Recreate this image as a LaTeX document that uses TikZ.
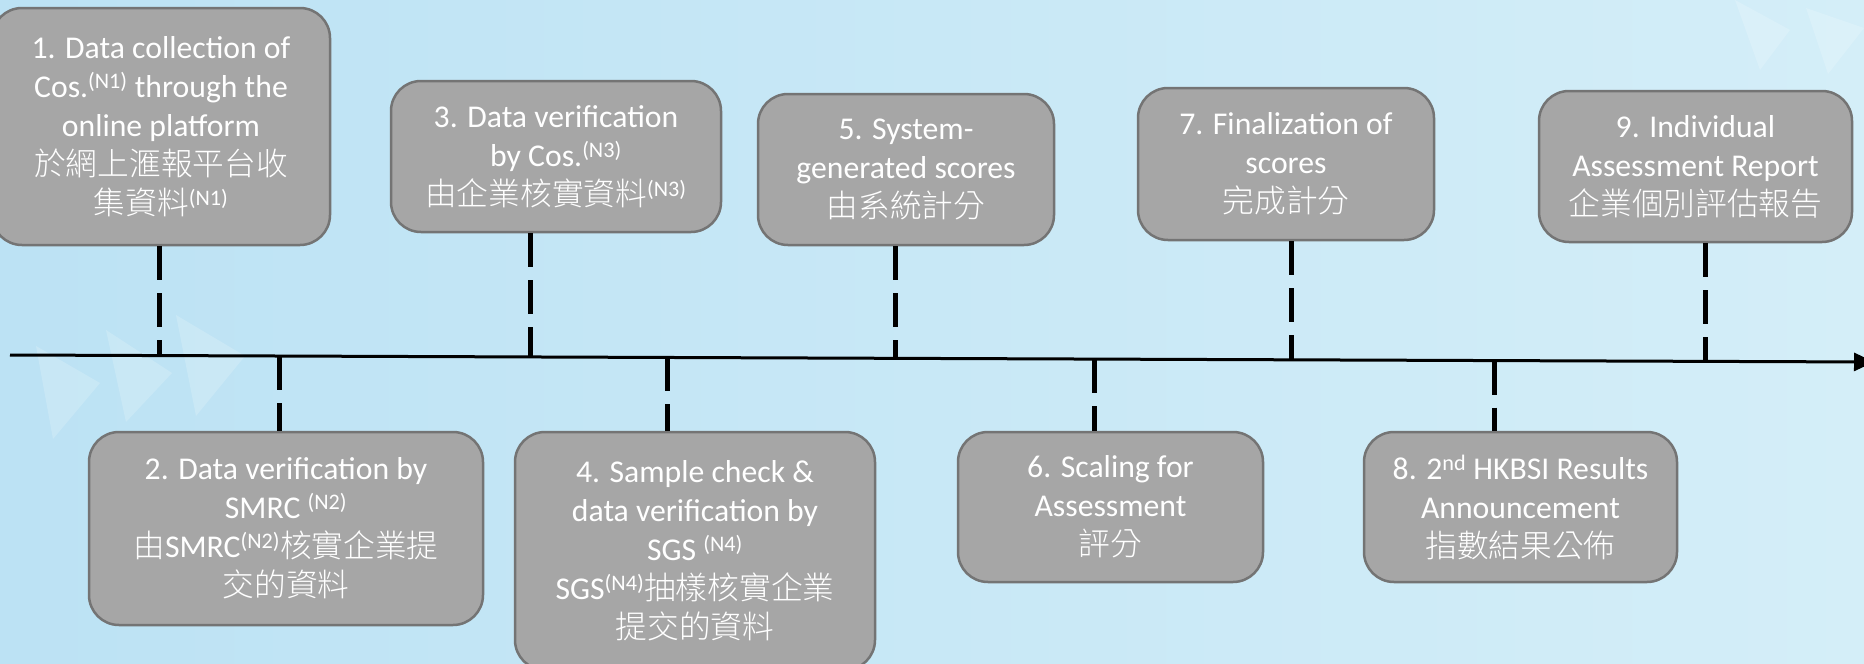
\documentclass[tikz,border=0pt]{standalone}
\usepackage{fontspec}
\setmainfont{Carlito}
\IfFontExistsTF{Noto Sans CJK TC Light}
  {\newfontfamily\cjk{Noto Sans CJK TC Light}}
  {\newfontfamily\cjk{Noto Sans CJK TC}}
\usepackage{xcolor}
\usepackage{tikz}
\usetikzlibrary{calc,arrows.meta}
\definecolor{boxfill}{HTML}{A6A6A6}
\definecolor{boxline}{HTML}{747474}
\definecolor{bgleft}{HTML}{BCE2F4}
\definecolor{bgmid}{HTML}{E9F6FC}
\definecolor{bgright}{HTML}{D4EEF8}
\newcommand{\nmark}[1]{\textsuperscript{(#1)}}
\tikzset{
  stepbox/.style={draw=boxline, fill=boxfill, line width=2.5pt, rounded corners=30pt,
    align=center, text=white, inner sep=0pt, font=\fontsize{31.7}{39}\selectfont},
  timeline/.style={draw=black, line width=3pt, -{Triangle[length=20pt,width=18pt]}},
  dashtick/.style={draw=black, line width=5pt, dash pattern=on 34pt off 13pt},
  facet/.style={fill=white, opacity=0.18},
}

\begin{document}
\begin{tikzpicture}[x=1pt, y=-1pt]
  \useasboundingbox (0,0) rectangle (1864,664);
  \shade[left color=bgleft, middle color=bgmid, right color=bgright] (0,0) rectangle (1864,664);

  % faint facets of the backdrop
  \fill[facet] (36,346) -- (100,383) -- (53,439) -- cycle;
  \fill[facet] (106,330) -- (172,373) -- (126,422) -- cycle;
  \fill[facet] (176,315) -- (245,356) -- (196,416) -- cycle;
  \fill[facet] (1806,8) -- (1864,28) -- (1828,74) -- cycle;
  \fill[facet] (1735,0) -- (1790,30) -- (1760,70) -- cycle;

  % time axis
  \coordinate (axL) at (10,355);
  \coordinate (axR) at (1874,362);
  \draw[timeline] (axL) -- (axR);
  \foreach \n/\x in {1/160,2/280,3/531,4/668,5/896,6/1094,7/1291,8/1495,9/1705}
    \coordinate (t\n) at ($(axL)!{(\x-10)/1864}!(axR)$);

  % steps above the axis
  \node[stepbox, minimum width=338pt, minimum height=237pt] (s1) at (161,126.5)
    {1. Data collection of\\ Cos.\nmark{N1} through the\\ online platform\\
     {\cjk 於網上滙報平台收}\\ {\cjk 集資料}\nmark{N1}};
  \node[stepbox, minimum width=330pt, minimum height=151pt] (s3) at (556,156.5)
    {3. Data verification\\ by Cos.\nmark{N3}\\ {\cjk 由企業核實資料}\nmark{N3}};
  \node[stepbox, minimum width=296pt, minimum height=151pt] (s5) at (906,169.5)
    {5. System-\\ generated scores\\ {\cjk 由系統計分}};
  \node[stepbox, minimum width=296pt, minimum height=152pt] (s7) at (1286,164)
    {7. Finalization of\\ scores\\ {\cjk 完成計分}};
  \node[stepbox, minimum width=313pt, minimum height=151pt] (s9) at (1695.5,166.5)
    {9. Individual\\ Assessment Report\\ {\cjk 企業個別評估報告}};

  % steps below the axis
  \node[stepbox, minimum width=394pt, minimum height=193pt] (s2) at (286,528.5)
    {2. Data verification by\\ SMRC \nmark{N2}\\
     {\cjk 由}SMRC\nmark{N2}{\cjk 核實企業提}\\ {\cjk 交的資料}};
  \node[stepbox, minimum width=360pt, minimum height=238pt] (s4) at (695,551)
    {4. Sample check \&\\ data verification by\\ SGS \nmark{N4}\\
     SGS\nmark{N4}{\cjk 抽樣核實企業}\\ {\cjk 提交的資料}};
  \node[stepbox, minimum width=305pt, minimum height=150pt] (s6) at (1110.5,507)
    {6. Scaling for\\ Assessment\\ {\cjk 評分}};
  \node[stepbox, minimum width=313pt, minimum height=150pt] (s8) at (1520.5,507)
    {8. 2\textsuperscript{nd} HKBSI Results\\ Announcement\\ {\cjk 指數結果公佈}};

  % dashed links to the axis
  \foreach \n in {1,3,5,7,9}
    \draw[dashtick] (s\n.south -| t\n) -- (t\n);
  \foreach \n in {2,4,6,8}
    \draw[dashtick] (t\n) -- (t\n |- s\n.north);
\end{tikzpicture}
\end{document}
